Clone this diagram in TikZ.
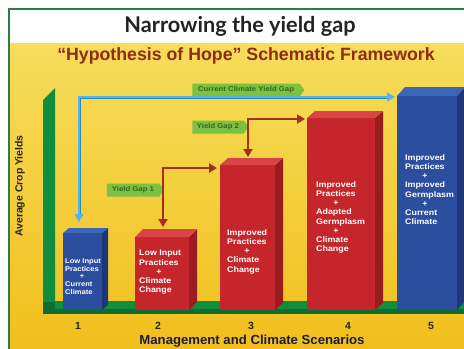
\documentclass[tikz,border=0pt]{standalone}
\usepackage{fontspec}
\setmainfont{Liberation Sans}
\newfontfamily\titlefont{Lato}
\newfontfamily\widefont[FakeStretch=1.1]{Liberation Sans}
\usetikzlibrary{arrows.meta,shapes.symbols,calc}
\definecolor{bgtop}{HTML}{F6DD5C}
\definecolor{bgbot}{HTML}{F1BE1A}
\definecolor{framegreen}{HTML}{2E7D3E}
\definecolor{titlegray}{HTML}{232323}
\definecolor{subt}{HTML}{8E2C14}
\definecolor{bluefront}{HTML}{2B4E9E}
\definecolor{blueside}{HTML}{1D377A}
\definecolor{bluetop}{HTML}{3C66B8}
\definecolor{redfront}{HTML}{C4262B}
\definecolor{redside}{HTML}{981C20}
\definecolor{redtop}{HTML}{DB4446}
\definecolor{axisgreen}{HTML}{0F8F3E}
\definecolor{axisdark}{HTML}{0B6E2E}
\definecolor{taggreen}{HTML}{7DC142}
\definecolor{tagtext}{HTML}{2F6A18}
\definecolor{redarrow}{HTML}{A2301C}
\definecolor{blueedge}{HTML}{2C8CB4}
\definecolor{bluelight}{HTML}{55B4E8}
\definecolor{darktext}{HTML}{2A2418}
\definecolor{navytext}{HTML}{1C1C3A}
\newlength\plw
\newcommand\plusline{\settowidth\plw{Practices}\makebox[\plw]{+}}
\newcommand\prism[8]{%
  \coordinate (#1sw) at (#2,#5);
  \coordinate (#1ne) at (#3,#4);
  \coordinate (#1nw) at (#2,#4);
  \coordinate (#1se) at (#3,#5);
  \fill[#8front] (#1sw) rectangle (#1ne);
  \fill[#8side] (#1se) -- (#1ne) -- ++(#6,-#7) -- ($(#1se)+(#6,-#7)$) -- cycle;
  \fill[#8top] (#1nw) -- (#1ne) -- ++(#6,-#7) -- ($(#1nw)+(#6,-#7)$) -- cycle;
}
\tikzset{
  tag/.style={signal, signal to=east, signal pointer angle=110, fill=taggreen,
    text=tagtext, font=\widefont\bfseries\fontsize{7.1}{8}\selectfont, minimum height=13bp,
    inner xsep=3bp, inner ysep=0bp},
  blocktext/.style={anchor=north west, inner sep=0pt, text=white, align=left,
    font=\widefont\bfseries\fontsize{8.1}{9.3}\selectfont},
  num/.style={font=\bfseries\fontsize{10.5}{12}\selectfont, text=darktext},
  redarr/.style={redarrow, line width=2.4bp, {Triangle[width=9bp,length=8bp]}-{Triangle[width=9bp,length=8bp]}},
}
\begin{document}
\begin{tikzpicture}[x=1bp,y=-1bp]
\useasboundingbox (0,0) rectangle (464,348);
\clip (0,0) rectangle (464,348);
\fill[white] (0,0) rectangle (464,348);
\shade[top color=bgtop, bottom color=bgbot] (9,43) rectangle (470,360);
\draw[framegreen, line width=1.2bp] (9,360) -- (9,9) -- (470,9);

% titles
\node[font=\titlefont\bfseries\fontsize{21.8}{24}\selectfont, text=titlegray] (title) at (240,26) {Narrowing the yield gap};
\node[font=\bfseries\fontsize{17.8}{20}\selectfont, text=subt] (subtitle) at (246,56) {“Hypothesis of Hope” Schematic Framework};

% axes
\fill[axisgreen] (43,100) -- (55,88) -- (55,313) -- (43,313) -- cycle;
\fill[axisdark] (43,302) rectangle (470,314);
\fill[axisgreen] (55,301) -- (470,301) -- (470,309) -- (55,309) -- cycle;

% blocks
\prism{b1}{63}{102}{233}{310}{6}{5}{blue}
\prism{b2}{135}{189}{237}{310}{8}{8}{red}
\prism{b3}{220}{275}{165}{310}{8}{7}{red}
\prism{b4}{307}{375}{118}{310}{8}{7}{red}
\prism{b5}{397}{457}{96}{310}{8}{9}{blue}

% block texts
\node[blocktext, font=\widefont\bfseries\fontsize{6.9}{7.7}\selectfont] (t1) at (65,258.5) {Low Input\\Practices\\\plusline\\Current\\Climate};
\node[blocktext] (t2) at (139,250) {Low Input\\Practices\\\plusline\\Climate\\Change};
\node[blocktext] (t3) at (227,229) {Improved\\Practices\\\plusline\\Climate\\Change};
\node[blocktext] (t4) at (316,181) {Improved\\Practices\\\plusline\\Adapted\\Germplasm\\\plusline\\Climate\\Change};
\node[blocktext] (t5) at (405,154) {Improved\\Practices\\\plusline\\Improved\\Germplasm\\\plusline\\Current\\Climate};

% tags
\node[tag, minimum width=112bp] (gapc) at (246,90) {Current Climate Yield Gap};
\node[tag, minimum width=57bp] (gap1) at (133,190) {Yield Gap 1};
\node[tag, minimum width=56bp] (gap2) at (218,127) {Yield Gap 2};

% blue arrow
\coordinate (ba1) at (79,222);
\coordinate (ba2) at (395,97);
\draw[blueedge, line width=3bp, shorten <=6bp, shorten >=6bp] (ba1) |- (ba2);
\draw[bluelight, line width=1.3bp, {Triangle[width=9bp,length=8bp]}-{Triangle[width=9bp,length=8bp]}] (ba1) |- (ba2);

% red arrows
\coordinate (ra1) at (163,227);
\coordinate (ra2) at (217,168);
\coordinate (rb1) at (248,157);
\coordinate (rb2) at (305,119);
\draw[redarr] (ra1) |- (ra2);
\draw[redarr] (rb1) |- (rb2);

% axis labels
\node[num] (n1) at (78,326) {1};
\node[num] (n2) at (158,326) {2};
\node[num] (n3) at (251,326) {3};
\node[num] (n4) at (348,326) {4};
\node[num] (n5) at (431,326) {5};
\node[font=\bfseries\fontsize{13.2}{15}\selectfont, text=navytext] (xlab) at (252,341) {Management and Climate Scenarios};
\node[font=\bfseries\fontsize{10.5}{12}\selectfont, text=darktext, rotate=90] (ylab) at (20,186) {Average Crop Yields};
\end{tikzpicture}
\end{document}
